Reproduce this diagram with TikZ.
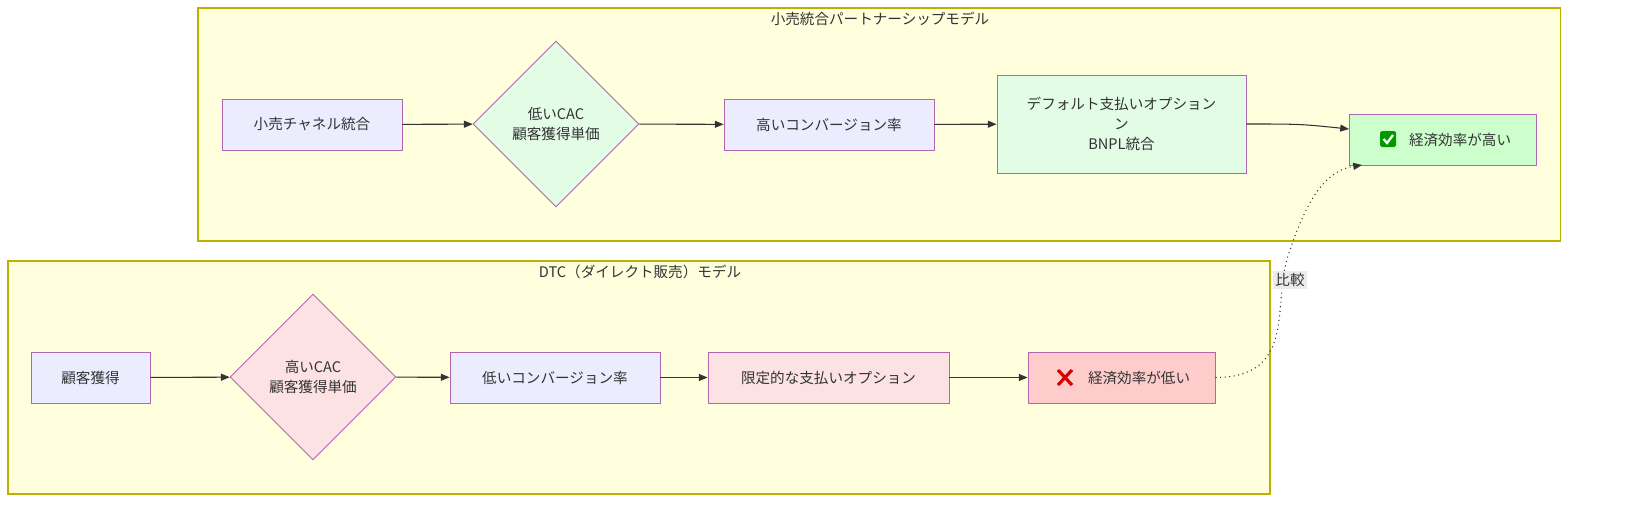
\documentclass[tikz,border=0pt]{standalone}
\usepackage{fontspec}
\setmainfont{Noto Sans CJK JP}
\usetikzlibrary{shapes.geometric,arrows.meta}
\definecolor{lav}{HTML}{ECECFF}
\definecolor{cl}{HTML}{FFFFDE}
\definecolor{gr}{HTML}{E3FCE6}
\definecolor{pk}{HTML}{FDE2E4}
\definecolor{okg}{HTML}{CCFFCC}
\definecolor{ngr}{HTML}{FFCCCC}
\begin{document}
\begin{tikzpicture}[x=0.02cm,y=-0.02cm,
  every node/.style={font=\fontsize{8.3}{11.5}\selectfont,text=black!80},
  box/.style={draw=violet!60, fill=#1, line width=0.5pt, align=center, inner sep=0pt},
  dia/.style={diamond, draw=violet!60, fill=#1, line width=0.5pt, align=center, inner sep=0pt, minimum width=166*0.02cm, minimum height=166*0.02cm},
  arr/.style={-{Triangle[length=5pt,width=4pt]}, draw=black!80, line width=0.6pt}]
\draw[fill=cl, draw=olive!60!yellow, line width=0.6pt] (198,8) rectangle (1560,241);
\draw[fill=cl, draw=olive!60!yellow, line width=0.6pt] (8,261) rectangle (1270,494);
\node (t1) at (880,19) {小売統合パートナーシップモデル};
\node (t2) at (640,272) {DTC（ダイレクト販売）モデル};
\node[box=lav, minimum width=180*0.02cm, minimum height=51*0.02cm] (a1) at (312,124.5) {小売チャネル統合};
\node[dia=gr] (a2) at (556,124) {低いCAC\\顧客獲得単価};
\node[box=lav, minimum width=210*0.02cm, minimum height=51*0.02cm] (a3) at (829,124.5) {高いコンバージョン率};
\node[box=gr, minimum width=249*0.02cm, minimum height=98*0.02cm] (a4) at (1121.5,124) {デフォルト支払いオプション\\ン\\BNPL統合};
\node[box=okg, minimum width=187*0.02cm, minimum height=51*0.02cm] (a5) at (1442.5,139.5) {\hspace{20pt}経済効率が高い};
\fill[green!60!black, rounded corners=1pt] (1380,131) rectangle (1396,147);
\draw[white, line width=1.3pt] (1383.5,139) -- (1387,143) -- (1393,135);
\node[box=lav, minimum width=119*0.02cm, minimum height=51*0.02cm] (b1) at (90.5,377.5) {顧客獲得};
\node[dia=pk] (b2) at (313,377) {高いCAC\\顧客獲得単価};
\node[box=lav, minimum width=210*0.02cm, minimum height=51*0.02cm] (b3) at (555,377.5) {低いコンバージョン率};
\node[box=pk, minimum width=241*0.02cm, minimum height=51*0.02cm] (b4) at (828.5,377.5) {限定的な支払いオプション};
\node[box=ngr, minimum width=187*0.02cm, minimum height=51*0.02cm] (b5) at (1121.5,377.5) {\hspace{20pt}経済効率が低い};
\draw[red!85!black, line width=1.8pt] (1058,370) -- (1072,385) (1058,385) -- (1072,370);
\draw[arr] (a1) -- (a2);
\draw[arr] (a2) -- (a3);
\draw[arr] (a3) -- (a4);
\draw[arr] (a4.east) .. controls (1300,124) .. (1349,129);
\draw[arr] (b1) -- (b2);
\draw[arr] (b2) -- (b3);
\draw[arr] (b3) -- (b4);
\draw[arr] (b4) -- (b5);
\draw[arr, dotted] (b5.east) .. controls (1300,377) and (1270,300) .. (1290,250) .. controls (1310,190) and (1330,170) .. (1362,165);
\node[fill=black!8, inner sep=1.5pt] (lb) at (1290,280) {比較};
\pgfresetboundingbox
\path[use as bounding box] (0,0) rectangle (1638,524);
\end{tikzpicture}
\end{document}
